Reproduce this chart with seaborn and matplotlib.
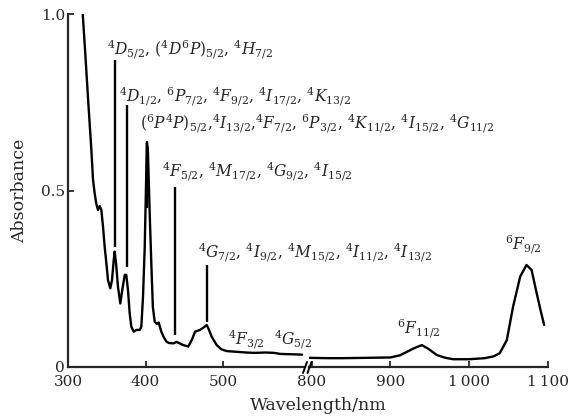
import numpy as np
import pandas as pd
import matplotlib
matplotlib.use("Agg")
import matplotlib.pyplot as plt
import seaborn as sns

# ---- data ----
left_nm = [319, 322, 326, 330, 332.3, 334.4, 336.5, 338.7, 340.9, 343, 345.2, 347.3,
           349.5, 351.6, 354.6, 356.8, 359, 360.2, 362, 364.5, 367.5, 370, 373.2, 375.2,
           377.4, 379.6, 381.7, 384.8, 388.1, 392.5, 394.6, 396.8, 399, 401, 401.8, 403,
           405.4, 407.5, 409.5, 411.9, 414.8, 417, 420.4, 423.9, 427, 430, 436, 440.3,
           448.8, 455.2, 459.6, 463.9, 470.3, 476.8, 479, 481, 485.4, 491.9, 498, 505,
           518, 530, 540, 555, 566, 574, 590, 602]
left_abs = [1.00, 0.898, 0.756, 0.62, 0.53, 0.492, 0.463, 0.445, 0.456, 0.445, 0.397,
            0.341, 0.294, 0.246, 0.223, 0.246, 0.303, 0.327, 0.294, 0.227, 0.18, 0.218,
            0.261, 0.261, 0.218, 0.152, 0.114, 0.10, 0.105, 0.105, 0.114, 0.199, 0.341,
            0.55, 0.634, 0.62, 0.436, 0.294, 0.17, 0.128, 0.122, 0.126, 0.10, 0.083,
            0.072, 0.068, 0.067, 0.071, 0.062, 0.058, 0.076, 0.10, 0.105, 0.115, 0.119,
            0.11, 0.086, 0.062, 0.05, 0.045, 0.043, 0.041, 0.04, 0.041, 0.04, 0.037,
            0.036, 0.035]

right_nm = [797, 820, 840, 870, 900, 912, 921, 930, 940, 948, 959, 970, 980, 1000, 1020,
            1031, 1039, 1048, 1056, 1065, 1073, 1079.5, 1086, 1091, 1095.5]
right_abs = [0.026, 0.025, 0.025, 0.026, 0.027, 0.033, 0.043, 0.053, 0.062, 0.052, 0.034,
             0.026, 0.022, 0.022, 0.025, 0.03, 0.039, 0.076, 0.171, 0.256, 0.289, 0.275,
             0.209, 0.16, 0.119]

marker_nm = [360, 375.5, 402, 438, 479.2]
marker_top = [0.87, 0.742, 0.64, 0.511, 0.289]
marker_bottom = [0.34, 0.284, 0.45, 0.09, 0.128]

left_labels = [
    r"$^4D_{5/2}$, $(^4D^6P)_{5/2}$, $^4H_{7/2}$",
    r"$^4D_{1/2}$, $^6P_{7/2}$, $^4F_{9/2}$, $^4I_{17/2}$, $^4K_{13/2}$",
    r"$(^6P^4P)_{5/2}$,$^4I_{13/2}$,$^4F_{7/2}$, $^6P_{3/2}$, $^4K_{11/2}$, $^4I_{15/2}$, $^4G_{11/2}$",
    r"$^4F_{5/2}$, $^4M_{17/2}$, $^4G_{9/2}$, $^4I_{15/2}$",
    r"$^4G_{7/2}$, $^4I_{9/2}$, $^4M_{15/2}$, $^4I_{11/2}$, $^4I_{13/2}$",
    r"$^4F_{3/2}$  $^4G_{5/2}$",
]
left_label_x = [350, 366, 393, 421, 468, 506.5]
left_label_y = [0.884, 0.751, 0.676, 0.539, 0.308, 0.062]

right_labels = [r"$^6F_{11/2}$", r"$^6F_{9/2}$"]
right_label_x = [909, 1046]
right_label_y = [0.095, 0.331]

left_ticks = [300, 400, 500]
right_ticks = [800, 900, 1000, 1100]
right_ticklabels = ["800", "900", "1\u2009000", "1\u2009100"]
y_ticks = [0, 0.5, 1.0]
y_ticklabels = ["0", "0.5", "1.0"]

# ---- style ----
sns.set_style("ticks")
plt.rcParams["font.family"] = ["DejaVu Serif"]
plt.rcParams["mathtext.fontset"] = "dejavuserif"
plt.rcParams["xtick.direction"] = "in"
plt.rcParams["ytick.direction"] = "in"

W, H = 568, 420
fig = plt.figure(figsize=(W / 100, H / 100), dpi=100)
fig.patch.set_facecolor("white")

bot = 53 / H
hgt = 353 / H
axL = fig.add_axes([68 / W, bot, 237 / W, hgt])
axR = fig.add_axes([309 / W, bot, 238.7 / W, hgt])
axR.patch.set_alpha(0)

dfL = pd.DataFrame({"nm": left_nm, "A": left_abs})
dfR = pd.DataFrame({"nm": right_nm, "A": right_abs})
sns.lineplot(data=dfL, x="nm", y="A", ax=axL, color="black", lw=1.7, sort=False,
             estimator=None)
sns.lineplot(data=dfR, x="nm", y="A", ax=axR, color="black", lw=1.7, sort=False,
             estimator=None)
axL.vlines(marker_nm, marker_bottom, marker_top, color="black", lw=1.7)

axL.set_xlim(300, 605.8)
axR.set_xlim(796.6, 1100)
for ax in (axL, axR):
    ax.set_ylim(0, 1.0)
    ax.set_xlabel("")
    ax.set_ylabel("")
    sns.despine(ax=ax)
    for s in ax.spines.values():
        s.set_linewidth(1.6)
    ax.tick_params(axis="both", labelsize=11, length=4, width=1.3)
    ax.tick_params(axis="x", pad=6)
    ax.tick_params(axis="y", pad=2)

axL.set_xticks(left_ticks)
axL.set_yticks(y_ticks)
axL.set_yticklabels(y_ticklabels)
axR.set_xticks(right_ticks)
axR.set_xticklabels(right_ticklabels)
axR.spines["left"].set_visible(False)
axR.set_yticks([])

axL.set_ylabel("Absorbance", fontsize=12.5, labelpad=9)
fig.text(318 / W, (H - 397) / H, "Wavelength/nm", ha="center", va="top", fontsize=12.5)

for t, x, y in zip(left_labels, left_label_x, left_label_y):
    axL.text(x, y, t, fontsize=11.2, ha="left", va="baseline", clip_on=False, zorder=5)
for t, x, y in zip(right_labels, right_label_x, right_label_y):
    axR.text(x, y, t, fontsize=11.2, ha="left", va="baseline", clip_on=False, zorder=5)

# axis break marks
for x0 in (303, 307.5):
    fig.add_artist(plt.Line2D([x0 / W, (x0 + 4) / W], [(H - 373) / H, (H - 362) / H],
                              color="black", lw=1.4, transform=fig.transFigure))

fig.savefig("out.png", dpi=100, facecolor="white")
